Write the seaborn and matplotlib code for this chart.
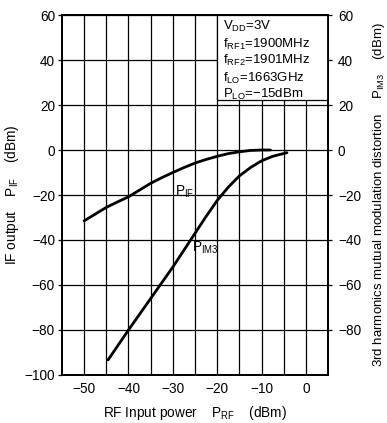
import matplotlib
matplotlib.use("Agg")
import matplotlib.pyplot as plt
import seaborn as sns
import pandas as pd
from matplotlib.patches import Rectangle

# ---- data ----
pif_x = [-50, -47.5, -45, -42.5, -40, -37.5, -35, -32.5, -30, -27.5, -25, -22.5,
         -20, -17.5, -15, -12.5, -10, -8]
pif_y = [-31.5, -28.5, -25.5, -23.1, -20.8, -17.8, -14.8, -12.3, -10.0, -7.8, -5.8, -4.2,
         -2.8, -1.6, -0.8, -0.2, 0.0, 0.0]
pim3_x = [-44.6, -40, -35, -30, -27.5, -25, -22.5, -20, -17.5, -15, -12.5, -10, -7.5, -4.3]
pim3_y = [-93.3, -80, -66, -52, -44.5, -37, -29.5, -22.4, -16.5, -11.5, -7.8, -4.8, -2.8, -1.2]
left_ticks = [-100, -80, -60, -40, -20, 0, 20, 40, 60]
right_ticks = [-80, -60, -40, -20, 0, 20, 40, 60]
x_ticks = [-50, -40, -30, -20, -10, 0]
cond_lines = [r"V$_{\rm DD}$=3V", r"f$_{\rm RF1}$=1900MHz", r"f$_{\rm RF2}$=1901MHz",
              r"f$_{\rm LO}$=1663GHz", r"P$_{\rm LO}$=−15dBm"]

sns.set_style("white")
plt.rcParams["font.family"] = ["Liberation Sans", "DejaVu Sans"]
plt.rcParams["mathtext.fontset"] = "custom"
plt.rcParams["mathtext.rm"] = "Liberation Sans"
plt.rcParams["mathtext.it"] = "Liberation Sans"
plt.rcParams["axes.unicode_minus"] = True
for k in ["text.color", "axes.labelcolor", "xtick.color", "ytick.color", "axes.edgecolor"]:
    plt.rcParams[k] = "black"

fig = plt.figure(figsize=(3.87, 4.23), dpi=100)
ax = fig.add_axes([0.160, 0.1135, 0.688, 0.851])

df_if = pd.DataFrame({"x": pif_x, "y": pif_y})
df_im = pd.DataFrame({"x": pim3_x, "y": pim3_y})
sns.lineplot(data=df_if, x="x", y="y", ax=ax, color="black", lw=2.0, zorder=5, sort=False)
sns.lineplot(data=df_im, x="x", y="y", ax=ax, color="black", lw=2.0, zorder=5, sort=False)

ax.set_xlim(-55, 5)
ax.set_ylim(-100, 60)
ax.set_xticks(x_ticks)
ax.set_xticks(list(range(-50, 5, 5)), minor=True)
ax.set_yticks(left_ticks)
ax.grid(True, which="both", axis="x", color="black", lw=0.9)
ax.grid(True, which="major", axis="y", color="black", lw=0.9)
ax.set_axisbelow(True)
for s in ax.spines.values():
    s.set_color("black"); s.set_linewidth(1.3)
ax.tick_params(axis="both", which="major", labelsize=9.8, length=3, width=0.9,
               color="black", direction="out", pad=2)
ax.tick_params(axis="x", which="minor", length=0)
ax.set_xticklabels([f"{v:d}".replace("-", "−") for v in x_ticks])
ax.set_yticklabels([f"{v:d}".replace("-", "−") for v in left_ticks])

ax.set_xlabel(r"RF Input power    P$_{\rm RF}$    (dBm)", fontsize=9.8, labelpad=6)
ax.set_ylabel(r"IF output    P$_{\rm IF}$    (dBm)", fontsize=9.8)
ax.yaxis.set_label_coords(-0.152, 0.5)

ax2 = ax.twinx()
ax2.set_ylim(-100, 60)
ax2.set_yticks(right_ticks)
ax2.set_yticklabels([f"{v:d}".replace("-", "−") for v in right_ticks])
ax2.tick_params(axis="y", labelsize=9.8, length=3, width=0.9, direction="out", pad=4)
ax2.set_ylabel(r"3rd harmonics mutual modulation distortion    P$_{\rm IM3}$    (dBm)",
               fontsize=9.5)
ax2.yaxis.set_label_coords(1.16, 0.5)
for s in ax2.spines.values():
    s.set_linewidth(1.3)

# condition box
ax.add_patch(Rectangle((-20, 22.2), 25, 37.8, facecolor="white", edgecolor="black",
                       lw=0.9, zorder=3))
ys = [54.7, 47.1, 39.6, 32.0, 24.9]
for t, yy in zip(cond_lines, ys):
    ax.text(-18.8, yy, t, fontsize=9.5, va="center", ha="left", zorder=6)

ax.text(-29.5, -18.5, r"P$_{\rm IF}$", fontsize=9.8, va="center", ha="left", zorder=6)
ax.text(-25.6, -43.5, r"P$_{\rm IM3}$", fontsize=9.8, va="center", ha="left", zorder=6)

fig.savefig("out.png", dpi=100)
